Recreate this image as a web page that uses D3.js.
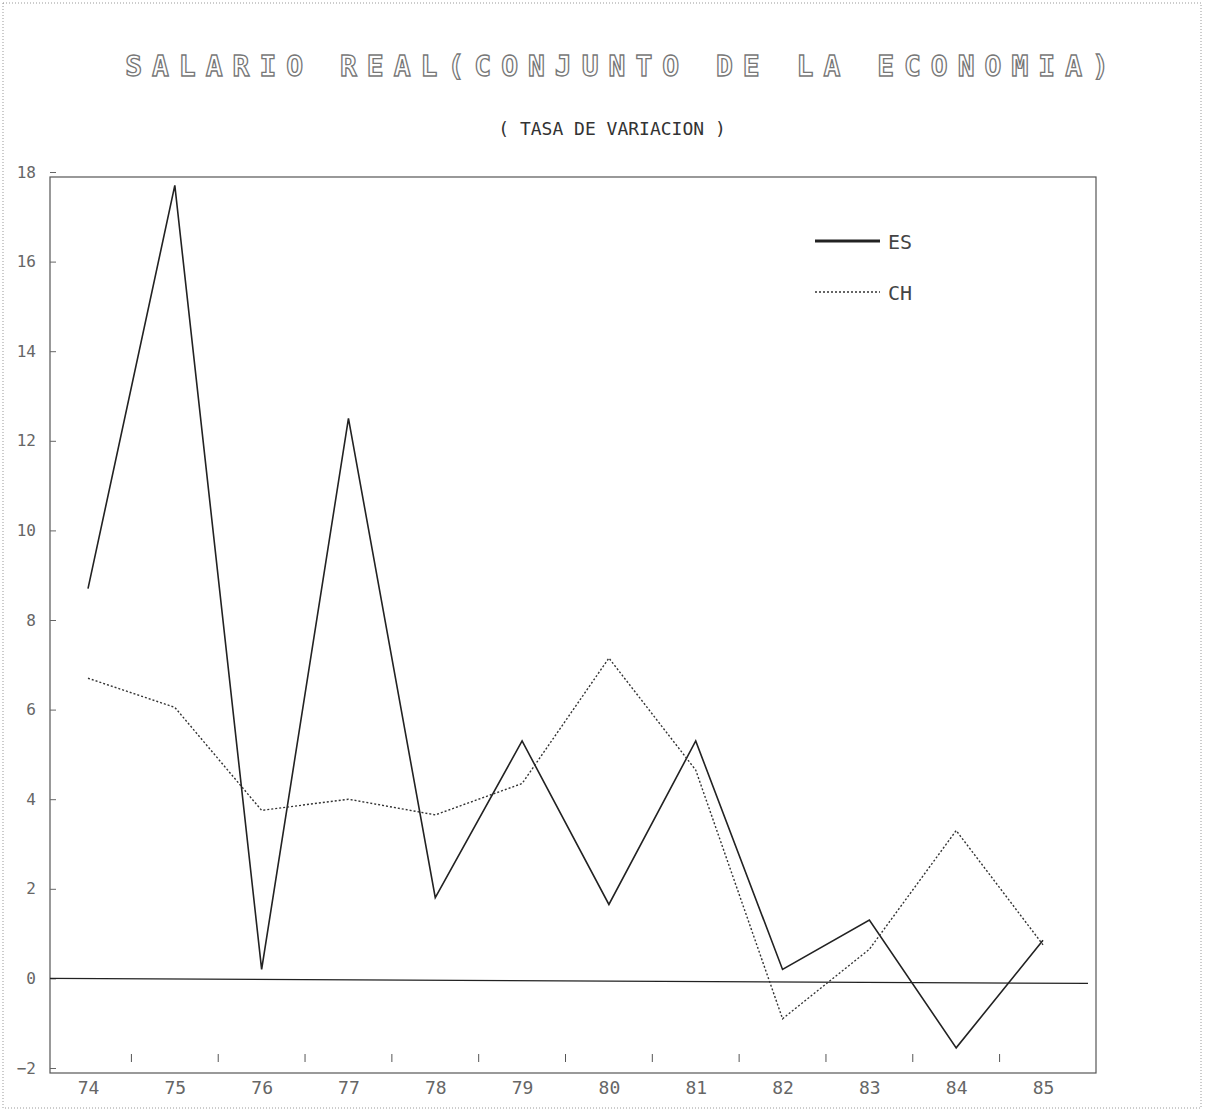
<!DOCTYPE html>
<html><head><meta charset="utf-8">
<script src="https://cdn.jsdelivr.net/npm/d3@7"></script>
<style>body{margin:0;background:#fff}</style></head>
<body><svg id="c" width="1210" height="1115"></svg>
<script>
const years=["74","75","76","77","78","79","80","81","82","83","84","85"];
const es=[8.7,17.7,0.2,12.5,1.8,5.3,1.65,5.3,0.2,1.3,-1.55,0.85];
const ch=[6.7,6.05,3.75,4.0,3.65,4.35,7.15,4.65,-0.9,0.65,3.3,0.75];
const yTicks=[-2,0,2,4,6,8,10,12,14,16,18];
const svg=d3.select("#c");
const L=50,R=1096,T=172,B=1068;
svg.append("rect").attr("x",3).attr("y",3).attr("width",1198).attr("height",1105).attr("fill","none").attr("stroke","#999").attr("stroke-dasharray","1,2");
svg.append("rect").attr("x",L).attr("y",177).attr("width",R-L).attr("height",B-177+5).attr("fill","none").attr("stroke","#555").attr("stroke-width",1.2);
const x=d3.scalePoint().domain(years).range([88,1043]);
const y=d3.scaleLinear().domain([-2,18]).range([B,T]);
svg.append("text").attr("x",622).attr("y",76).attr("text-anchor","middle").attr("font-family","DejaVu Sans Mono").attr("font-size",28).attr("font-weight","bold").attr("letter-spacing",10).attr("fill","#fff").attr("stroke","#777").attr("stroke-width",1.3).text("SALARIO REAL(CONJUNTO DE LA ECONOMIA)");
svg.append("text").attr("x",612).attr("y",135).attr("text-anchor","middle").attr("font-family","DejaVu Sans Mono").attr("font-size",18).attr("fill","#333").text("( TASA DE VARIACION )");
const ya=svg.append("g").attr("transform",`translate(${L},0)`).call(d3.axisLeft(y).tickValues(yTicks).tickSize(-6).tickPadding(6));
ya.select(".domain").remove();
ya.selectAll("text").attr("font-family","DejaVu Sans Mono").attr("font-size",16).attr("fill","#666").attr("transform","translate(-8,0)");
ya.selectAll("line").attr("stroke","#666");
const xa=svg.append("g").attr("transform",`translate(0,${B+5})`).call(d3.axisBottom(x).tickSize(0).tickPadding(8));
xa.select(".domain").remove();
xa.selectAll("text").attr("font-family","DejaVu Sans Mono").attr("font-size",18).attr("fill","#666");
svg.append("g").selectAll("line").data(years.slice(0,-1)).join("line")
 .attr("x1",d=>x(d)+x.step()/2).attr("x2",d=>x(d)+x.step()/2).attr("y1",B-14).attr("y2",B-6).attr("stroke","#555");
svg.append("line").attr("x1",L).attr("x2",R-8).attr("y1",y(0)).attr("y2",y(0)+5).attr("stroke","#222").attr("stroke-width",1.3);
const line=d3.line().x((d,i)=>x(years[i])).y(d=>y(d));
svg.append("path").attr("d",line(es)).attr("fill","none").attr("stroke","#222").attr("stroke-width",1.6);
svg.append("path").attr("d",line(ch)).attr("fill","none").attr("stroke","#333").attr("stroke-width",1.4).attr("stroke-dasharray","2,2");
svg.append("line").attr("x1",815).attr("x2",880).attr("y1",241).attr("y2",241).attr("stroke","#222").attr("stroke-width",3);
svg.append("line").attr("x1",815).attr("x2",880).attr("y1",292).attr("y2",292).attr("stroke","#333").attr("stroke-width",1.4).attr("stroke-dasharray","2,2");
svg.append("text").attr("x",888).attr("y",249).attr("font-family","DejaVu Sans Mono").attr("font-size",20).attr("fill","#444").text("ES");
svg.append("text").attr("x",888).attr("y",300).attr("font-family","DejaVu Sans Mono").attr("font-size",20).attr("fill","#444").text("CH");
</script></body></html>
